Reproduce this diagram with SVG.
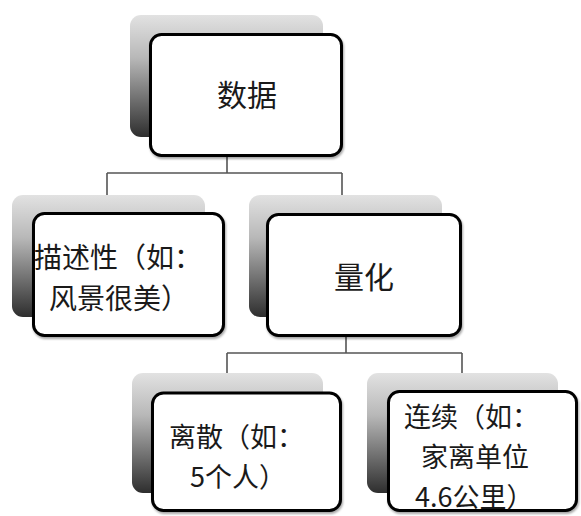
<svg xmlns="http://www.w3.org/2000/svg" width="581" height="516" viewBox="0 0 581 516">
<defs>
<linearGradient id="sh" x1="0" y1="0" x2="0" y2="1">
<stop offset="0" stop-color="#e2e2e2"/>
<stop offset="0.35" stop-color="#b8b8b8"/>
<stop offset="1" stop-color="#2e2e2e"/>
</linearGradient>
<filter id="ds" x="-10%" y="-10%" width="120%" height="125%">
<feDropShadow dx="1" dy="2" stdDeviation="1.2" flood-color="#000" flood-opacity="0.35"/>
</filter>
</defs>
<style>
.shadow{fill:url(#sh);}
.box{fill:#fff;stroke:#000;stroke-width:3;filter:url(#ds);}
.conn{fill:none;stroke:#555;stroke-width:1.6;}
text{font-family:"Noto Sans CJK SC","Noto Sans CJK TC",sans-serif;fill:#1a1a1a;dominant-baseline:central;}
.big{font-size:30px;text-anchor:middle;}
.sm{font-size:28px;}
.xs{font-size:27px;}
</style>
<rect width="581" height="516" fill="#fff"/>
<g id="connectors">
<path class="conn" d="M227,157 V173 M107,173 H342 M107,173 V195 M342,173 V195"/>
<path class="conn" d="M346,337 V353 M227,353 H462 M227,353 V373 M462,353 V373"/>
</g>
<g id="node-root">
<rect class="shadow" x="130" y="15" width="193" height="122" rx="11"/>
<rect class="box" x="150.5" y="34.5" width="191" height="121" rx="11"/>
<text class="big" x="247" y="93">数据</text>
</g>
<g id="node-descriptive">
<rect class="shadow" x="12" y="195" width="193" height="122" rx="11"/>
<rect class="box" x="33.5" y="213.5" width="190" height="122" rx="11"/>
<text class="sm" x="34" y="256">描述性（如：</text>
<text class="sm" x="49" y="297">风景很美）</text>
</g>
<g id="node-quant">
<rect class="shadow" x="249" y="195" width="193" height="122" rx="11"/>
<rect class="box" x="267.5" y="214.5" width="193" height="121" rx="11"/>
<text class="big" x="364" y="275">量化</text>
</g>
<g id="node-discrete">
<rect class="shadow" x="132" y="373" width="191" height="120" rx="11"/>
<rect class="box" x="152.5" y="393" width="188" height="117.5" rx="11"/>
<text class="xs" x="169" y="435">离散（如：</text>
<text class="xs" x="190" y="475">5个人）</text>
</g>
<g id="node-continuous">
<rect class="shadow" x="367" y="373" width="191" height="120" rx="11"/>
<rect class="box" x="388.5" y="391.5" width="188" height="119" rx="11"/>
<text class="xs" x="404" y="415">连续（如：</text>
<text class="xs" x="421" y="455">家离单位</text>
<text class="xs" x="415" y="495">4.6公里）</text>
</g>
</svg>
